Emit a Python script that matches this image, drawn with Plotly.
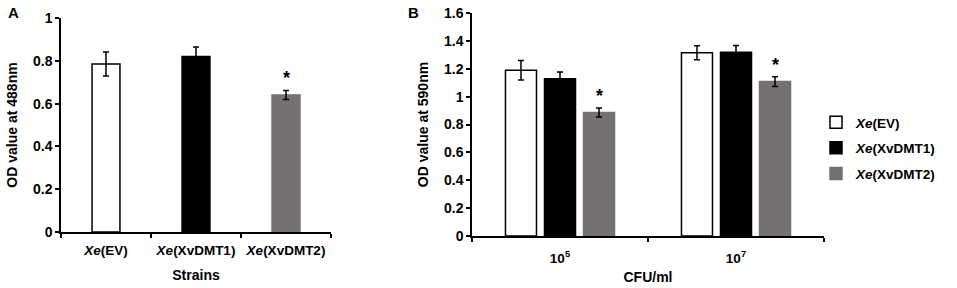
import plotly.graph_objects as go

# Panel A data
strains = ["EV", "XvDMT1", "XvDMT2"]
strain_labels = ["<i>Xe</i>(EV)", "<i>Xe</i>(XvDMT1)", "<i>Xe</i>(XvDMT2)"]
od488 = [0.785, 0.82, 0.64]
od488_err = [0.056, 0.045, 0.021]

# Panel B data
cfu = ["10^5", "10^7"]
cfu_labels = ["10<sup>5</sup>", "10<sup>7</sup>"]
series_names = ["<i>Xe</i>(EV)", "<i>Xe</i>(XvDMT1)", "<i>Xe</i>(XvDMT2)"]
od590 = [[1.19, 1.315], [1.128, 1.318], [0.886, 1.108]]
od590_err = [[0.07, 0.05], [0.048, 0.048], [0.032, 0.035]]

fills = ["white", "black", "#767171"]
edges = ["black", "black", "#767171"]

FONT = "Liberation Sans, Arial, sans-serif"

fig = go.Figure()

fig.add_trace(go.Bar(
    x=strains, y=od488, width=0.31,
    marker=dict(color=fills, line=dict(color=edges, width=1.5)),
    error_y=dict(type="data", array=od488_err, color="black", thickness=1.5, width=3),
    showlegend=False, xaxis="x", yaxis="y",
))

for i in range(3):
    fig.add_trace(go.Bar(
        x=cfu, y=od590[i], name=series_names[i], legendgroup=f"g{i}",
        marker=dict(color=fills[i], line=dict(color=edges[i], width=1.5)),
        error_y=dict(type="data", array=od590_err[i], color="black", thickness=1.5, width=3),
        xaxis="x2", yaxis="y2",
    ))

axis_common = dict(showline=True, linecolor="black", linewidth=1.5, showgrid=False,
                   zeroline=False, ticks="outside", tickcolor="black", ticklen=4, tickwidth=1.5,
                   automargin=False,
                   tickfont=dict(family=FONT, size=14, color="black", weight="bold"))

fig.update_layout(
    width=957, height=288,
    margin=dict(l=0, r=0, t=0, b=0),
    paper_bgcolor="white", plot_bgcolor="white",
    barmode="group", bargap=0.335, bargroupgap=0.205,
    font=dict(family=FONT, color="black"),
    xaxis=dict(axis_common, type="category", domain=[61/957, 331/957], anchor="y",
               tickmode="array", tickvals=strains, ticktext=strain_labels, tickson="boundaries",
               ticklabelstandoff=5,
               tickfont=dict(family=FONT, size=13.5, color="black", weight="bold"),
               title=dict(text="Strains", font=dict(family=FONT, size=14, weight="bold"), standoff=13)),
    yaxis=dict(axis_common, domain=[56/288, 270/288], range=[0, 1], dtick=0.2, anchor="x",
               title=dict(text="OD value at 488nm", font=dict(family=FONT, size=14, weight="bold"), standoff=12)),
    xaxis2=dict(axis_common, type="category", domain=[472/957, 824/957], anchor="y2",
                tickmode="array", tickvals=cfu, ticktext=cfu_labels, tickson="boundaries",
                ticklabelstandoff=9,
                tickfont=dict(family=FONT, size=13.5, color="black", weight="bold"),
                title=dict(text="CFU/ml", font=dict(family=FONT, size=14, weight="bold"), standoff=7)),
    yaxis2=dict(axis_common, domain=[52/288, 275/288], range=[0, 1.6], dtick=0.2, anchor="x2",
                title=dict(text="OD value at 590nm", font=dict(family=FONT, size=14, weight="bold"), standoff=12)),
    legend=dict(x=816/957, y=1 - 107/288, xanchor="left", yanchor="top",
                font=dict(family=FONT, size=13.5, color="black", weight="bold"),
                tracegroupgap=5, bgcolor="rgba(0,0,0,0)"),
    annotations=[
        dict(text="A", x=6/957, y=1 - 12.5/288, xref="paper", yref="paper", showarrow=False,
             xanchor="left", yanchor="middle", font=dict(family=FONT, size=15, weight="bold")),
        dict(text="B", x=406/957, y=1 - 12.5/288, xref="paper", yref="paper", showarrow=False,
             xanchor="left", yanchor="middle", font=dict(family=FONT, size=15, weight="bold")),
        dict(text="*", x="XvDMT2", y=od488[2] + od488_err[2], xref="x", yref="y", showarrow=False,
             yanchor="bottom", yshift=1, font=dict(family=FONT, size=18, weight="bold")),
        dict(text="*", x="10^5", y=od590[2][0] + od590_err[2][0], xref="x2", yref="y2", showarrow=False,
             xshift=39, yanchor="bottom", yshift=0, font=dict(family=FONT, size=18, weight="bold")),
        dict(text="*", x="10^7", y=od590[2][1] + od590_err[2][1], xref="x2", yref="y2", showarrow=False,
             xshift=39, yanchor="bottom", yshift=0, font=dict(family=FONT, size=18, weight="bold")),
    ],
)

fig.write_html("out.html", config={"displayModeBar": False},
               post_script="document.body.style.margin='0';")
